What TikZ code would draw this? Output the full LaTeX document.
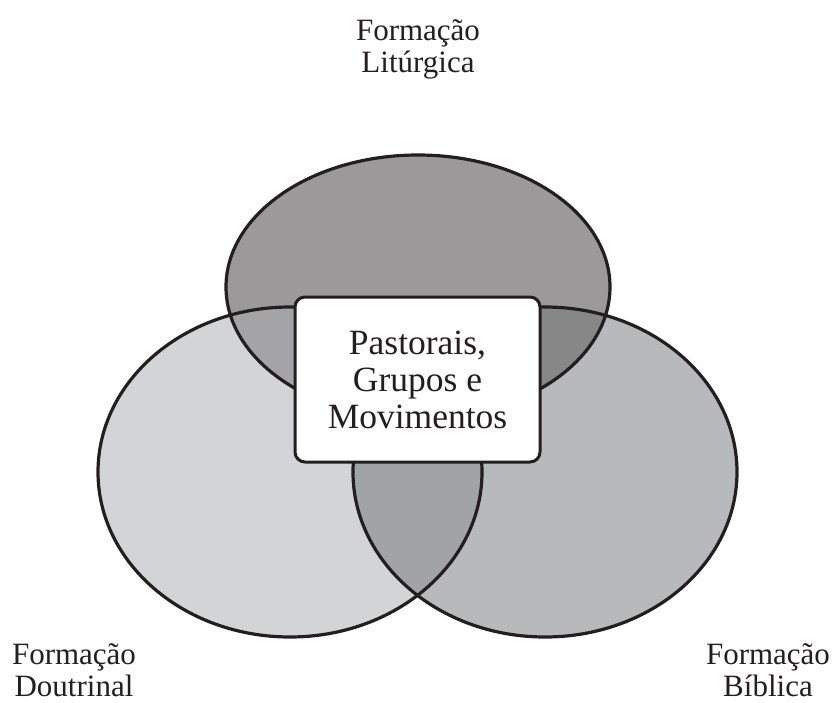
\documentclass[tikz,border=0pt]{standalone}
\usepackage{fontspec}
\setmainfont{Liberation Serif}
\usepackage{tikz}
\usetikzlibrary{positioning}

\definecolor{outline}{RGB}{35,31,32}
\definecolor{litfill}{RGB}{155,153,154}
\definecolor{doufill}{RGB}{211,212,214}
\definecolor{bibfill}{RGB}{184,185,187}
\definecolor{litdou}{RGB}{164,164,166}
\definecolor{litbib}{RGB}{135,135,135}
\definecolor{doubib}{RGB}{162,163,165}

\begin{document}
\begin{tikzpicture}[x=1pt,y=-1pt,
		ring/.style={line width=3.2pt,draw=outline},
		area label/.style={align=center,text=outline,inner sep=1pt,font=\fontsize{31}{32}\selectfont},
		centre box/.style={draw=outline,line width=3pt,fill=white,rounded corners=10pt,
			minimum width=245pt,minimum height=165pt,align=center,text=outline,
			font=\fontsize{35.5}{37}\selectfont}]
		
		\useasboundingbox (0,0) rectangle (833,702);
		\def\litpath{(418,287) ellipse [x radius=192pt,y radius=132pt]}
		\def\doupath{(290,472) ellipse [x radius=192pt,y radius=165pt]}
		\def\bibpath{(545,472) ellipse [x radius=192pt,y radius=165pt]}
		
		% the three areas
		\fill[litfill] \litpath;
		\fill[doufill] \doupath;
		\fill[bibfill] \bibpath;
		% overlaps
		\begin{scope}
			\clip \litpath;
			\fill[litdou] \doupath;
			\fill[litbib] \bibpath;
		\end{scope}
		\begin{scope}
			\clip \doupath;
			\fill[doubib] \bibpath;
		\end{scope}
		% borders
		\draw[ring] \litpath;
		\draw[ring] \doupath;
		\draw[ring] \bibpath;
		
		\node[centre box] (pastorais) at (417.5,379.5) {Pastorais,\\Grupos e\\Movimentos};
		
		\node[area label] (liturgica) at (418,49) {Formação\\Litúrgica};
		\node[area label] (doutrinal) at (74,670) {Formação\\Doutrinal};
		\node[area label] (biblica) at (768,670) {Formação\\Bíblica};
		\end{tikzpicture}
\end{document}
